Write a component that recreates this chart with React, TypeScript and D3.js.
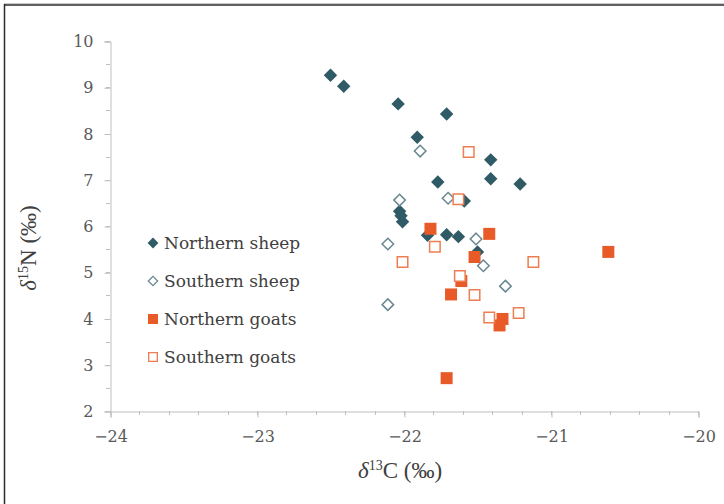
import * as React from 'react'
import {select, scaleLinear, axisBottom, axisLeft, range, symbol, symbolSquare, symbolDiamond2} from 'd3'

const {useEffect, useRef} = React

// δ13C, δ15N pairs
const northernSheep: [number, number][] = [
  [-22.5, 9.26], [-22.41, 9.02], [-22.04, 8.64], [-21.71, 8.42], [-21.91, 7.92],
  [-21.41, 7.43], [-21.41, 7.02], [-21.21, 6.91], [-21.77, 6.95], [-21.59, 6.54],
  [-22.03, 6.32], [-22.02, 6.22], [-22.01, 6.09], [-21.84, 5.8], [-21.71, 5.81],
  [-21.63, 5.77], [-21.5, 5.44],
]
const southernSheep: [number, number][] = [
  [-21.89, 7.62], [-22.03, 6.56], [-21.7, 6.6], [-22.11, 5.61], [-21.51, 5.72],
  [-21.46, 5.14], [-21.31, 4.7], [-22.11, 4.3],
]
const northernGoats: [number, number][] = [
  [-21.82, 5.94], [-21.42, 5.83], [-21.52, 5.33], [-21.61, 4.81], [-21.68, 4.52],
  [-21.33, 3.99], [-21.35, 3.85], [-21.71, 2.71], [-20.61, 5.44],
]
const southernGoats: [number, number][] = [
  [-21.56, 7.6], [-21.63, 6.58], [-21.79, 5.55], [-22.01, 5.22], [-21.62, 4.92],
  [-21.52, 4.51], [-21.42, 4.02], [-21.22, 4.12], [-21.12, 5.22],
]

const seriesNames = ['Northern sheep', 'Southern sheep', 'Northern goats', 'Southern goats']
const xDomain: [number, number] = [-24, -20]
const yDomain: [number, number] = [2, 10]

export default function App() {
  const ref = useRef<SVGSVGElement>(null)

  useEffect(() => {
    const svg = select(ref.current)
    svg.selectAll('*').remove()

    const x = scaleLinear().domain(xDomain).range([110, 698])
    const y = scaleLinear().domain(yDomain).range([411, 41])
    const axisColor = '#bfbfbf'
    const textColor = '#595959'

    // frame (top and left edges only, like the cropped original)
    svg.append('line').attr('x1', 4).attr('x2', 724).attr('y1', 3.5).attr('y2', 3.5)
      .attr('stroke', '#c8c8c8').attr('stroke-width', 1)
    svg.append('line').attr('x1', 4).attr('x2', 724).attr('y1', 5).attr('y2', 5)
      .attr('stroke', '#2b2b2b').attr('stroke-width', 1.5)
    svg.append('line').attr('x1', 4.5).attr('x2', 4.5).attr('y1', 4).attr('y2', 504)
      .attr('stroke', '#2b2b2b').attr('stroke-width', 1.5)

    // minor ticks
    const g = svg.append('g')
    g.selectAll('.xminor').data(range(-24, -19.99, 0.2)).enter().append('line')
      .attr('x1', d => Math.round(x(d)) + 0.5).attr('x2', d => Math.round(x(d)) + 0.5)
      .attr('y1', 411).attr('y2', 415).attr('stroke', axisColor)
    g.selectAll('.yminor').data(range(2, 10.01, 0.5)).enter().append('line')
      .attr('y1', d => Math.round(y(d)) + 0.5).attr('y2', d => Math.round(y(d)) + 0.5)
      .attr('x1', 106).attr('x2', 110).attr('stroke', axisColor)

    const xAxis = svg.append('g').attr('transform', 'translate(0.5, 411.5)')
      .call(axisBottom(x).ticks(4).tickSize(6).tickPadding(13))
    const yAxis = svg.append('g').attr('transform', 'translate(110.5, 0.5)')
      .call(axisLeft(y).ticks(8).tickSize(6).tickPadding(11))
    for (const a of [xAxis, yAxis]) {
      a.select('.domain').attr('stroke', axisColor)
      a.selectAll('.tick line').attr('stroke', axisColor)
      a.selectAll('.tick text').attr('fill', textColor)
        .style('font-family', '"DejaVu Serif", serif').style('font-size', '16px')
    }

    const shapes = [
      {data: northernSheep, type: symbolDiamond2, size: 115, fill: '#2f5b67', stroke: 'none'},
      {data: southernSheep, type: symbolDiamond2, size: 85, fill: '#ffffff', stroke: '#6a8791'},
      {data: northernGoats, type: symbolSquare, size: 144, fill: '#e85a27', stroke: 'none'},
      {data: southernGoats, type: symbolSquare, size: 110, fill: '#ffffff', stroke: '#ee7d52'},
    ]
    shapes.forEach(s => {
      svg.append('g').selectAll('path').data(s.data).enter().append('path')
        .attr('transform', d => `translate(${x(d[0])},${y(d[1])})`)
        .attr('d', symbol(s.type, s.size)())
        .attr('fill', s.fill).attr('stroke', s.stroke).attr('stroke-width', 1.5)
    })

    // legend
    const legend = svg.append('g').style('font-family', '"DejaVu Serif", serif')
    seriesNames.forEach((name, i) => {
      const s = shapes[i]
      const ly = 243 + i * 38
      const small = s.type === symbolDiamond2 ? (s.stroke === 'none' ? 75 : 55) : (s.stroke === 'none' ? 100 : 75)
      legend.append('path').attr('transform', `translate(153,${ly})`)
        .attr('d', symbol(s.type, small)())
        .attr('fill', s.fill).attr('stroke', s.stroke).attr('stroke-width', 1.3)
      legend.append('text').attr('x', 164).attr('y', ly).attr('dy', '0.35em')
        .attr('fill', '#404040').style('font-size', '17px').text(name)
    })

    // axis titles
    const xt = svg.append('text').attr('x', 400).attr('y', 478).attr('text-anchor', 'middle')
      .attr('fill', '#404040').style('font-family', '"Liberation Serif", serif').style('font-size', '23px')
    xt.append('tspan').style('font-style', 'italic').text('δ')
    xt.append('tspan').attr('dy', -8).style('font-size', '14px').text('13')
    xt.append('tspan').attr('dy', 8).text('C (‰)')

    const yt = svg.append('text').attr('transform', 'translate(36,248) rotate(-90)').attr('text-anchor', 'middle')
      .attr('fill', '#404040').style('font-family', '"Liberation Serif", serif').style('font-size', '23px')
    yt.append('tspan').style('font-style', 'italic').text('δ')
    yt.append('tspan').attr('dy', -8).style('font-size', '14px').text('15')
    yt.append('tspan').attr('dy', 8).text('N (‰)')
  }, [])

  return (
    <svg ref={ref} width={724} height={504}
      style={{position: 'absolute', left: 0, top: 0, background: '#ffffff', display: 'block'}} />
  )
}
